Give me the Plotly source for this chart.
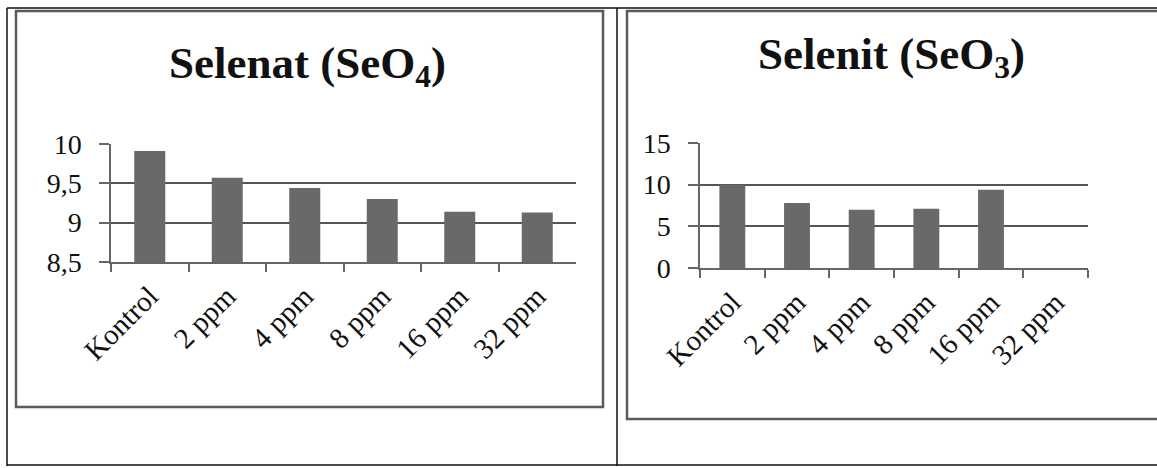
import plotly.graph_objects as go

categories = ["Kontrol", "2 ppm", "4 ppm", "8 ppm", "16 ppm", "32 ppm"]
selenat_values = [9.91, 9.57, 9.44, 9.30, 9.14, 9.13]
selenit_values = [10.0, 7.8, 7.0, 7.1, 9.4, 0]
selenat_ticks = [8.5, 9, 9.5, 10]
selenat_ticktext = ["8,5", "9", "9,5", "10"]
selenit_ticks = [0, 5, 10, 15]
selenit_ticktext = ["0", "5", "10", "15"]

W, H = 1157, 468


def px(x):
    return x / W


def py(y):
    return 1 - y / H


FONT = "Liberation Serif"
bar_color = "#696969"
grid_color = "#555555"
axis_color = "#666666"

fig = go.Figure()
fig.add_trace(go.Bar(x=categories, y=selenat_values, xaxis="x", yaxis="y",
                     marker=dict(color=bar_color, line=dict(width=0)),
                     showlegend=False))
fig.add_trace(go.Bar(x=categories, y=selenit_values, xaxis="x2", yaxis="y2",
                     marker=dict(color=bar_color, line=dict(width=0)),
                     showlegend=False))

xcommon = dict(type="category", showline=True, linecolor=axis_color, linewidth=1.5,
               ticks="outside", tickson="boundaries", ticklen=8, tickcolor=axis_color,
               tickwidth=1.5, tickangle=-45, showgrid=False, automargin=False,
               ticklabelstandoff=4,
               tickfont=dict(family=FONT, size=29, color="#111"))
ycommon = dict(showline=True, linecolor=axis_color, linewidth=1.5,
               ticks="outside", ticklen=10, tickcolor=axis_color, tickwidth=1.5,
               showgrid=True, gridcolor=grid_color, gridwidth=1.5, zeroline=False,
               ticklabelstandoff=12, automargin=False,
               tickfont=dict(family=FONT, size=28, color="#111"))

fig.update_layout(
    width=W, height=H,
    margin=dict(l=0, r=0, t=0, b=0, autoexpand=False),
    paper_bgcolor="white", plot_bgcolor="white",
    bargap=0.6,
    xaxis=dict(domain=[px(111), px(576)], anchor="y", **xcommon),
    yaxis=dict(domain=[py(262), py(144)], anchor="x", range=[8.5, 10],
               tickvals=selenat_ticks, ticktext=selenat_ticktext, **ycommon),
    xaxis2=dict(domain=[px(700), px(1088)], anchor="y2", **xcommon),
    yaxis2=dict(domain=[py(268), py(143)], anchor="x2", range=[0, 15],
                tickvals=selenit_ticks, ticktext=selenit_ticktext, **ycommon),
)

shapes = []
line_black = dict(color="#111111", width=1.5)
# outer table lines
shapes.append(dict(type="line", xref="paper", yref="paper", x0=px(7), x1=px(1157), y0=py(8), y1=py(8), line=line_black))
shapes.append(dict(type="line", xref="paper", yref="paper", x0=px(7), x1=px(7), y0=py(8), y1=py(466), line=line_black))
shapes.append(dict(type="line", xref="paper", yref="paper", x0=px(7), x1=px(1157), y0=py(465), y1=py(465), line=line_black))
shapes.append(dict(type="line", xref="paper", yref="paper", x0=px(617), x1=px(617), y0=py(8), y1=py(466), line=line_black))
# inner chart boxes
box_line = dict(color="#5a5a5a", width=2.5)
shapes.append(dict(type="rect", xref="paper", yref="paper", x0=px(16), x1=px(603), y0=py(11), y1=py(407), line=box_line))
shapes.append(dict(type="rect", xref="paper", yref="paper", x0=px(627), x1=px(1162), y0=py(11), y1=py(419), line=box_line))
fig.update_layout(shapes=shapes)

fig.add_annotation(xref="paper", yref="paper", x=px(307), y=py(66), xanchor="center", yanchor="middle",
                   text="<b>Selenat (SeO<sub>4</sub>)</b>", showarrow=False,
                   font=dict(family=FONT, size=45, color="#111"))
fig.add_annotation(xref="paper", yref="paper", x=px(891), y=py(57), xanchor="center", yanchor="middle",
                   text="<b>Selenit (SeO<sub>3</sub>)</b>", showarrow=False,
                   font=dict(family=FONT, size=45, color="#111"))

fig.write_html("out.html", config={"displayModeBar": False},
               post_script="document.body.style.margin='0';document.body.style.padding='0';")
